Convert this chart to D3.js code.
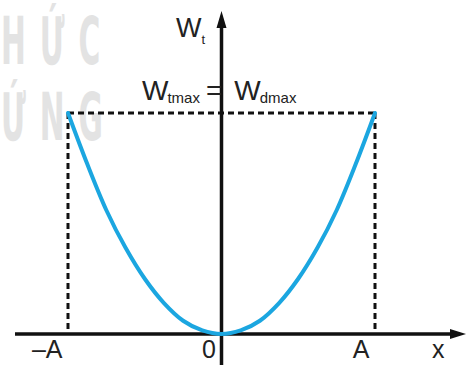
<!DOCTYPE html>
<html>
<head>
<meta charset="utf-8">
<script src="https://cdn.jsdelivr.net/npm/d3@7"></script>
<style>
  body { margin: 0; background: #fff; }
  svg { display: block; font-family: "Liberation Sans", Arial, sans-serif; }
</style>
</head>
<body>
<div id="chart"></div>
<script>
// x in units of A, W in units of Wmax
const xs = [-1, -0.875, -0.75, -0.625, -0.5, -0.375, -0.25, -0.125, 0, 0.125, 0.25, 0.375, 0.5, 0.625, 0.75, 0.875, 1];
const ws = [1, 0.77, 0.56, 0.39, 0.25, 0.14, 0.06, 0.016, 0, 0.016, 0.06, 0.14, 0.25, 0.39, 0.56, 0.77, 1];
const xTickValues = [-1, 0, 1];
const xTickLabels = ['\u2013A', '0', 'A'];

const width = 467, height = 365;

const svg = d3.select('#chart').append('svg')
    .attr('width', width)
    .attr('height', height);

const x = d3.scaleLinear().domain([-1, 1]).range([68, 375]);
const y = d3.scaleLinear().domain([0, 1]).range([334, 113]);

// watermark
const wm = svg.append('g').attr('fill', '#e3e3e3')
    .attr('font-family', '"DejaVu Sans Condensed", "DejaVu Sans", sans-serif')
    .attr('font-weight', 'bold');
wm.append('text').attr('transform', 'translate(1,64) scale(0.5,1)')
    .attr('font-size', 66).attr('letter-spacing', 28).text('HỨC');
wm.append('text').attr('transform', 'translate(1,140) scale(0.5,1)')
    .attr('font-size', 66).attr('letter-spacing', 28).text('ỨNG');

// dashed guides
const guides = svg.append('g')
    .attr('stroke', '#111')
    .attr('stroke-width', 3)
    .attr('stroke-dasharray', '6,4')
    .attr('fill', 'none');
guides.append('line')
    .attr('x1', x(-1)).attr('x2', x(1))
    .attr('y1', y(1)).attr('y2', y(1));
[-1, 1].forEach(v => {
    guides.append('line')
        .attr('x1', x(v)).attr('x2', x(v))
        .attr('y1', y(1)).attr('y2', y(0));
});

// axes
const axes = svg.append('g').attr('stroke', '#111').attr('stroke-width', 3.5);
axes.append('line')
    .attr('x1', 15).attr('x2', 456)
    .attr('y1', y(0)).attr('y2', y(0));
axes.append('line')
    .attr('x1', x(0)).attr('x2', x(0))
    .attr('y1', height).attr('y2', 22);
svg.append('path')
    .attr('d', `M466,${y(0)} L450,${y(0) - 5} L450,${y(0) + 5} Z`)
    .attr('fill', '#111');
svg.append('path')
    .attr('d', `M${x(0)},11 L${x(0) - 5},28 L${x(0) + 5},28 Z`)
    .attr('fill', '#111');

// curve
const line = d3.line()
    .x((d, i) => x(xs[i]))
    .y(d => y(d))
    .curve(d3.curveCatmullRom);
svg.append('path')
    .datum(ws)
    .attr('d', line)
    .attr('fill', 'none')
    .attr('stroke', '#1ba6e0')
    .attr('stroke-width', 4)
    .attr('stroke-linecap', 'round');

// tick labels
const xAxis = d3.axisBottom(x)
    .tickValues(xTickValues)
    .tickSize(0)
    .tickFormat((d, i) => xTickLabels[i]);
const gx = svg.append('g')
    .attr('transform', `translate(0,${y(0)})`)
    .call(xAxis);
gx.select('.domain').remove();
gx.selectAll('text')
    .attr('font-family', '"Liberation Sans", Arial, sans-serif')
    .attr('font-size', 25)
    .attr('fill', '#222')
    .attr('text-anchor', 'end')
    .attr('dx', -6)
    .attr('y', 24)
    .attr('dy', 0);

// axis names
svg.append('text').attr('x', 432).attr('y', 358)
    .attr('font-size', 25).attr('fill', '#222').text('x');

svg.append('text').attr('x', 176).attr('y', 37)
    .attr('font-size', 27).attr('fill', '#222')
    .text('W')
    .append('tspan').attr('font-size', 13).attr('dy', 7).attr('dx', 0).text('t');

const eq = svg.append('text').attr('x', 142).attr('y', 100)
    .attr('font-size', 28).attr('fill', '#222');
eq.append('tspan').text('W');
eq.append('tspan').attr('font-size', 15).attr('dy', 3).attr('dx', -1).text('tmax');
eq.append('tspan').attr('dy', -3).attr('dx', 6).text('=');
eq.append('tspan').attr('dx', 12).text('W');
eq.append('tspan').attr('font-size', 15).attr('dy', 3).attr('dx', -1).text('dmax');
</script>
</body>
</html>
